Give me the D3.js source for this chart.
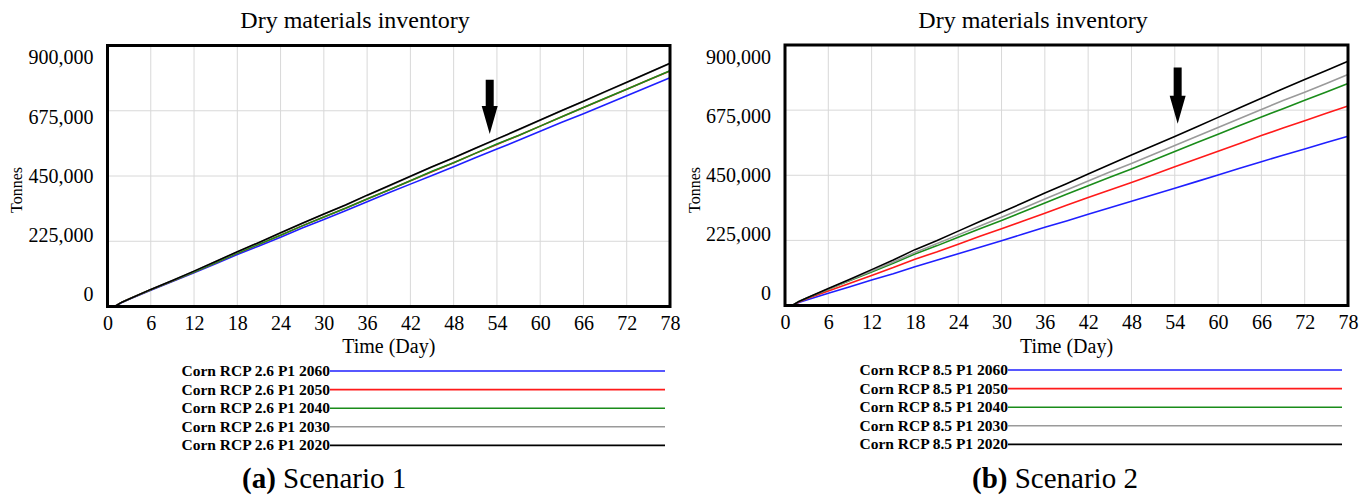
<!DOCTYPE html>
<html>
<head>
<meta charset="utf-8">
<script src="https://cdn.jsdelivr.net/npm/d3@7"></script>
<style>
  body { margin: 0; background: #fff; }
  svg { display: block; font-family: "Liberation Serif", "Times New Roman", serif; }
</style>
</head>
<body>
<svg id="chart" width="1372" height="495"></svg>
<script>
// days on the x axis (values below are in thousand tonnes)
const days = [0, 1, 2, 3, 6, 9, 12, 15, 18, 21, 24, 27, 30, 33, 36, 39, 42, 45, 48, 51, 54, 57, 60, 63, 66, 69, 72, 75, 78];

// scenario 1, RCP 2.6 (gray sits under black, red sits under green)
const s1_2060 = [0, 0, 14, 25, 56, 86, 116, 147, 179, 209, 239, 271, 300, 330, 361, 392, 422, 452, 482, 513, 543, 573, 604, 635, 665, 696, 727, 758, 789];
const s1_2050 = [0, 0, 15, 26, 58, 88, 119, 151, 184, 215, 246, 278, 309, 339, 371, 402, 434, 465, 496, 528, 559, 590, 622, 654, 686, 717, 749, 781, 812];
const s1_2040 = [0, 0, 15, 26, 58, 88, 119, 151, 184, 215, 246, 278, 309, 339, 371, 402, 434, 466, 496, 528, 560, 590, 622, 654, 686, 718, 749, 781, 813];
const s1_2030 = [0, 0, 15, 26, 59, 90, 122, 155, 188, 220, 253, 286, 318, 349, 383, 415, 448, 481, 512, 545, 577, 609, 642, 675, 707, 740, 772, 805, 838];
const s1_2020 = [0, 0, 15, 26, 59, 90, 122, 155, 189, 221, 254, 287, 319, 350, 384, 416, 449, 482, 513, 546, 578, 610, 643, 676, 708, 741, 773, 806, 839];

// scenario 2, RCP 8.5
const s2_2060 = [0, 0, 11, 19, 42, 65, 88, 110, 134, 156, 179, 201, 224, 247, 270, 292, 315, 338, 360, 383, 405, 428, 451, 474, 497, 519, 541, 563, 585];
const s2_2050 = [0, 0, 13, 23, 50, 77, 104, 131, 160, 185, 212, 239, 265, 292, 319, 346, 373, 399, 425, 452, 479, 506, 533, 560, 587, 613, 638, 664, 689];
const s2_2040 = [0, 0, 15, 25, 56, 86, 116, 146, 178, 206, 236, 265, 294, 324, 354, 384, 414, 443, 472, 502, 532, 562, 592, 622, 651, 680, 709, 738, 767];
const s2_2030 = [0, 0, 15, 26, 57, 88, 119, 150, 183, 213, 244, 275, 305, 336, 368, 399, 430, 461, 491, 522, 553, 584, 615, 646, 677, 708, 737, 767, 798];
const s2_2020 = [0, 0, 15, 26, 59, 91, 124, 157, 193, 224, 257, 290, 322, 355, 389, 421, 454, 487, 520, 552, 584, 617, 650, 683, 716, 749, 781, 812, 844];

const xTicks = [0, 6, 12, 18, 24, 30, 36, 42, 48, 54, 60, 66, 72, 78];
const yTicks = [0, 225, 450, 675, 900];
const years = ['2060', '2050', '2040', '2030', '2020'];
const colors = ['#1f1fff', '#ff1a1a', '#1a8c1a', '#9a9a9a', '#000000'];

// arrow annotation: [day, top value, tip value]
const arrow1 = [53, 782, 595];
const arrow2 = [54.4, 822, 628];

const svg = d3.select('#chart');

function drawPanel(p) {
  const x = d3.scaleLinear().domain([0, 78]).range([p.left, p.right]);
  const y = d3.scaleLinear().domain([0, 900]).range([p.bottom, p.top]);
  // the tick labels are spread a little inside the frame
  const yLab = d3.scaleLinear().domain([0, 900]).range([p.bottom - 12, p.top + 12]);
  const g = svg.append('g');

  g.append('text')
    .attr('x', p.titleX).attr('y', 28)
    .attr('text-anchor', 'middle')
    .attr('font-size', 24)
    .text('Dry materials inventory');

  // grid
  g.selectAll('.vgrid')
    .data(xTicks.slice(1, -1))
    .enter().append('line')
    .attr('x1', (d) => x(d)).attr('x2', (d) => x(d))
    .attr('y1', p.top).attr('y2', p.bottom)
    .attr('stroke', '#d8d8d8').attr('stroke-width', 1);
  g.selectAll('.hgrid')
    .data(yTicks.slice(1, -1))
    .enter().append('line')
    .attr('x1', p.left).attr('x2', p.right)
    .attr('y1', (d) => y(d)).attr('y2', (d) => y(d))
    .attr('stroke', '#d8d8d8').attr('stroke-width', 1);

  // axes
  const xAxis = g.append('g')
    .attr('transform', `translate(0,${p.bottom})`)
    .call(d3.axisBottom(x).tickValues(xTicks).tickSize(0).tickPadding(9))
    .attr('font-family', null).attr('font-size', 20);
  xAxis.select('.domain').remove();
  xAxis.selectAll('text').attr('fill', '#000');

  const yAxis = g.append('g')
    .attr('transform', `translate(${p.left},0)`)
    .call(d3.axisLeft(yLab).tickValues(yTicks).tickSize(0).tickPadding(14)
      .tickFormat((d) => d3.format(',')(d * 1000)))
    .attr('font-family', null).attr('font-size', 20);
  yAxis.select('.domain').remove();
  yAxis.selectAll('text').attr('fill', '#000');

  g.append('text')
    .attr('x', (p.left + p.right) / 2).attr('y', 353)
    .attr('text-anchor', 'middle')
    .attr('font-size', 20)
    .text('Time (Day)');

  g.append('text')
    .attr('transform', `translate(${p.tonnesX},190) rotate(-90)`)
    .attr('text-anchor', 'middle')
    .attr('font-size', 16)
    .text('Tonnes');

  // series
  const line = d3.line().x((d, i) => x(days[i])).y((d) => y(d));
  g.selectAll('.series')
    .data(p.series)
    .enter().append('path')
    .attr('d', line)
    .attr('fill', 'none')
    .attr('stroke', (d, i) => colors[i])
    .attr('stroke-width', 1.6)
    .attr('stroke-linejoin', 'round');

  // frame
  g.append('rect')
    .attr('x', p.left).attr('y', p.top)
    .attr('width', p.right - p.left).attr('height', p.bottom - p.top)
    .attr('fill', 'none').attr('stroke', '#000').attr('stroke-width', 3);

  // arrow
  const [ad, atop, atip] = p.arrow;
  const ax = x(ad);
  const headTop = y(atip) - 28;
  g.append('path')
    .attr('d', `M${ax - 4},${y(atop)}H${ax + 4}V${headTop}H${ax + 8}L${ax},${y(atip)}L${ax - 8},${headTop}H${ax - 4}Z`)
    .attr('fill', '#000');

  // legend
  const leg = g.selectAll('.legend')
    .data(years)
    .enter().append('g')
    .attr('transform', (d, i) => `translate(0,${p.legendY + i * 18.6})`);
  leg.append('line')
    .attr('x1', p.legendX).attr('x2', p.legendEnd)
    .attr('stroke', (d, i) => colors[i]).attr('stroke-width', 1.6);
  leg.append('text')
    .attr('x', p.legendX).attr('y', 5)
    .attr('text-anchor', 'end')
    .attr('font-size', 15.5).attr('font-weight', 'bold')
    .text((d) => `Corn RCP ${p.rcp} P1 ${d}`);

  const cap = g.append('text')
    .attr('x', p.capX).attr('y', 488)
    .attr('font-size', 29);
  cap.append('tspan').attr('font-weight', 'bold').text(p.capTag);
  cap.append('tspan').text(p.capText);
}

drawPanel({
  left: 107.5, right: 670, top: 45.5, bottom: 306.5,
  titleX: 355, tonnesX: 22,
  series: [s1_2060, s1_2050, s1_2040, s1_2030, s1_2020],
  arrow: arrow1, rcp: '2.6',
  legendX: 330, legendEnd: 665, legendY: 371,
  capX: 242, capTag: '(a)', capText: ' Scenario 1'
});

drawPanel({
  left: 785, right: 1348, top: 45, bottom: 305.5,
  titleX: 1033, tonnesX: 700,
  series: [s2_2060, s2_2050, s2_2040, s2_2030, s2_2020],
  arrow: arrow2, rcp: '8.5',
  legendX: 1008, legendEnd: 1342, legendY: 370,
  capX: 972, capTag: '(b)', capText: ' Scenario 2'
});
</script>
</body>
</html>
